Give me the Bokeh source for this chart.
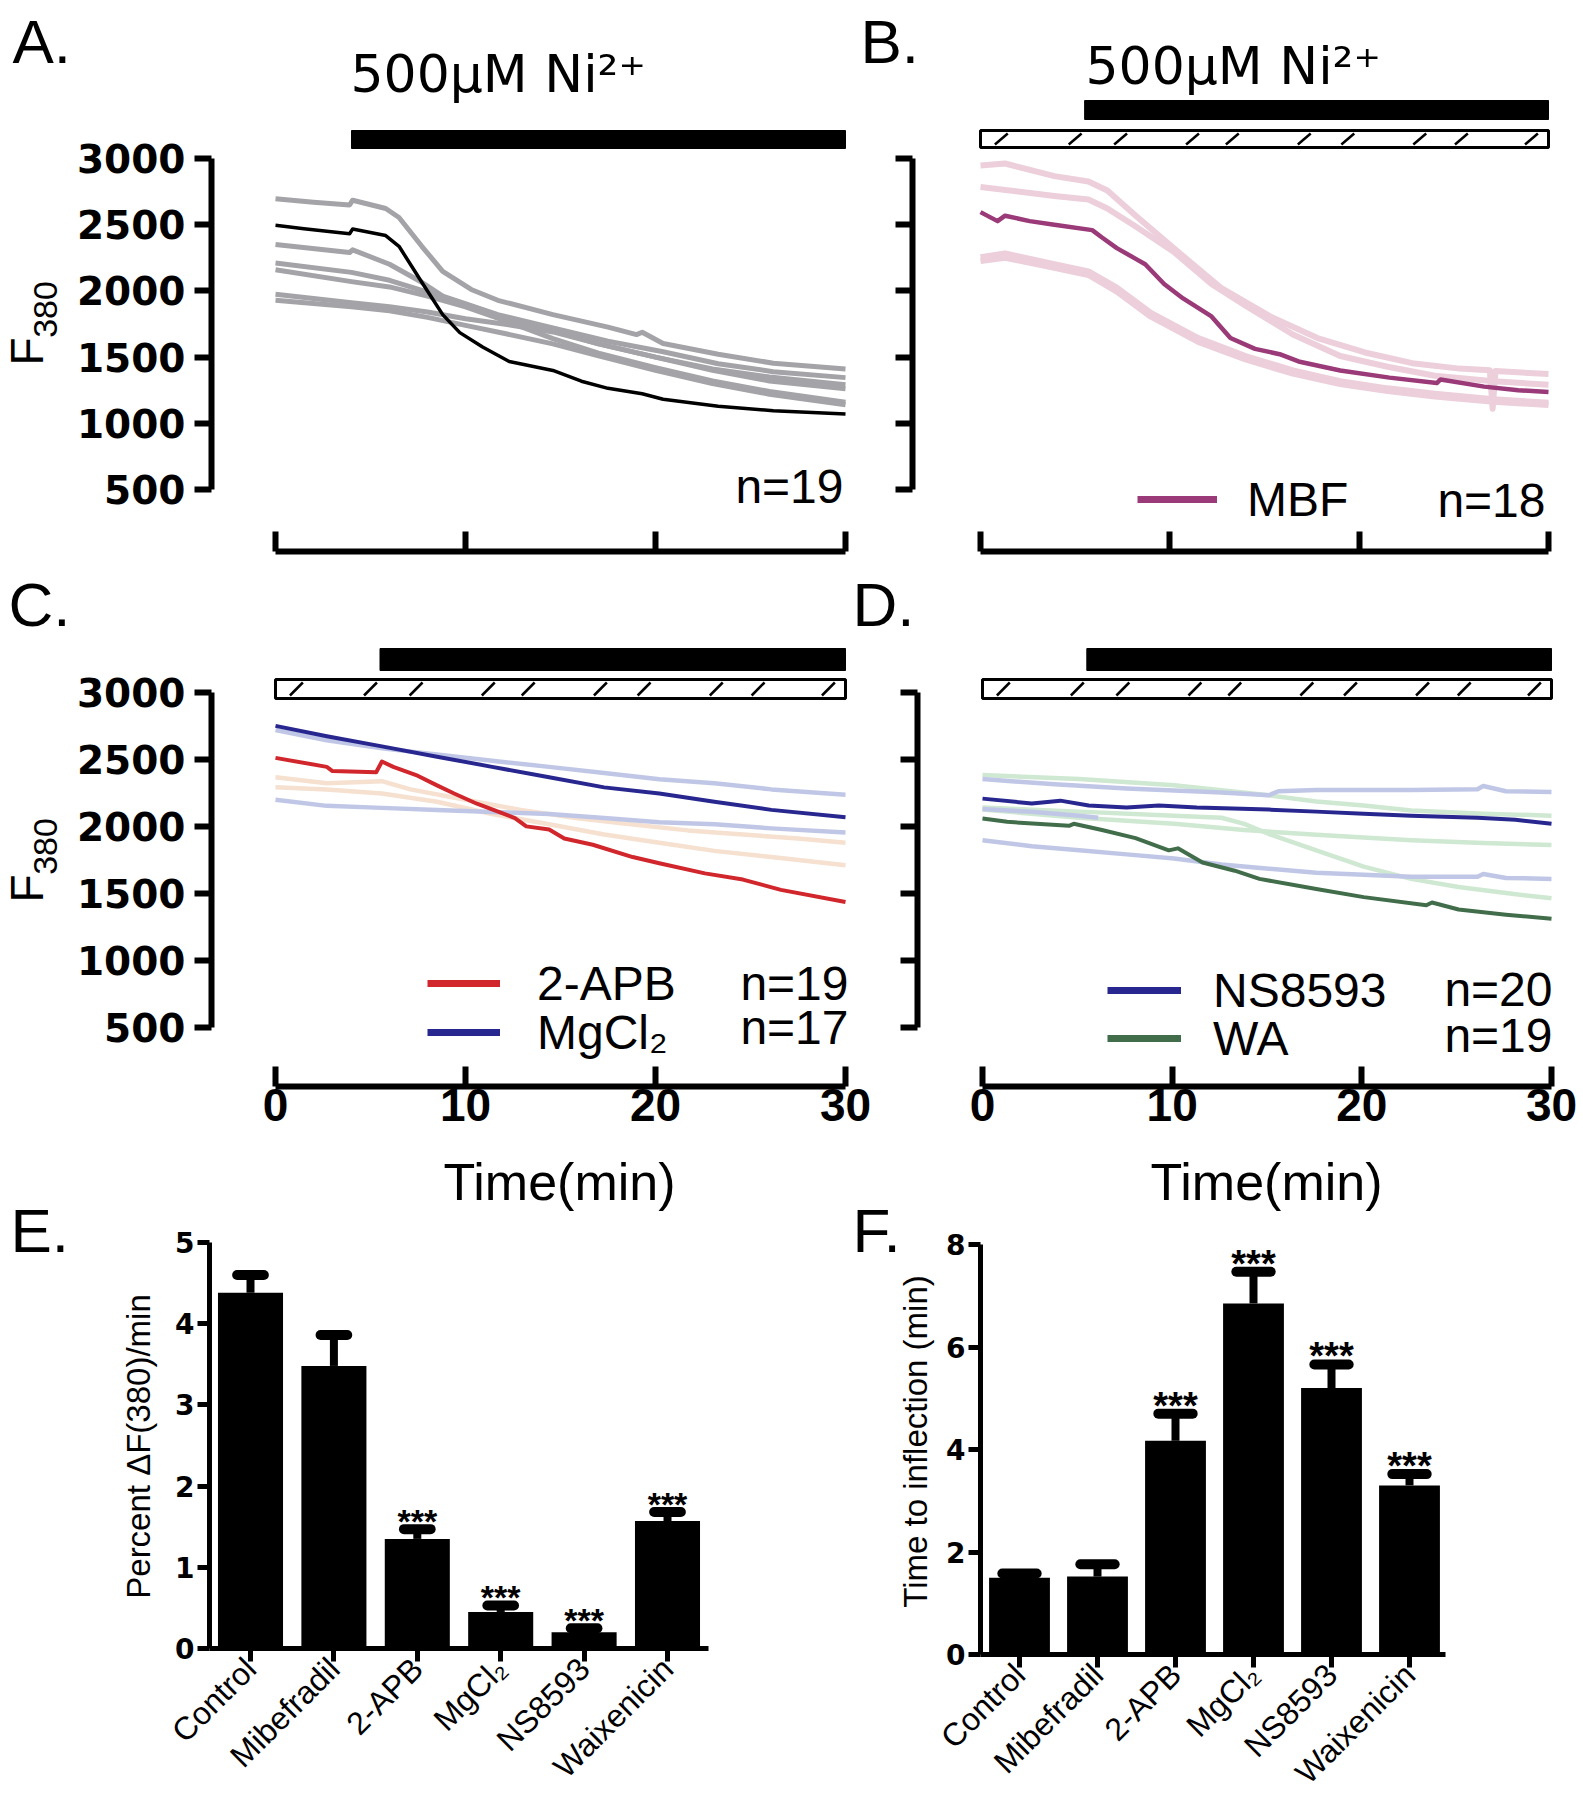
import math
from bokeh.plotting import figure
from bokeh.models import Range1d, FixedTicker, Label, Legend, LegendItem, LinearAxis
from bokeh.embed import file_html
from bokeh.resources import INLINE
from bokeh.core.properties import value

# ---------------- data ----------------
ni_start_a = 4.0
ni_start_bcd = 5.5
y_ticks_f380 = [500, 1000, 1500, 2000, 2500, 3000]
time_ticks = [0, 10, 20, 30]
hatch_t = [1.1, 5.0, 7.4, 11.2, 13.3, 17.1, 19.4, 23.2, 25.4, 29.1]

# Panel A (control): grey single cells + black mean
a_g1_t = [0, 2.0, 3.9, 4.06, 5.8, 6.5, 7.7, 8.8, 10.3, 11.7, 14.6, 17.5, 19.0, 19.3, 20.4, 23.3, 26.2, 30]
a_g1_f = [2696, 2670, 2649, 2685, 2622, 2554, 2337, 2147, 2011, 1929, 1821, 1726, 1670, 1688, 1603, 1522, 1454, 1410]
a_g2_t = [0, 3.9, 4.06, 6.0, 7.7, 8.8, 11.7, 14.6, 17.5, 20.4, 23.3, 26.2, 30]
a_g2_f = [2350, 2290, 2310, 2201, 2065, 1960, 1820, 1720, 1620, 1540, 1450, 1390, 1345]
a_gx_t = [0, 4, 6, 8, 10, 12, 14.6, 17, 20, 23, 26, 30]
a_g3_f = [2210, 2140, 2080, 1990, 1900, 1800, 1700, 1600, 1500, 1410, 1350, 1291]
a_g4_f = [2160, 2070, 2030, 1960, 1880, 1780, 1640, 1530, 1420, 1320, 1240, 1160]
a_g5_f = [1975, 1910, 1880, 1840, 1790, 1750, 1690, 1600, 1500, 1400, 1320, 1260]
a_g6_f = [1930, 1880, 1850, 1800, 1740, 1680, 1600, 1510, 1400, 1300, 1220, 1140]
a_k_t = [0, 1.5, 3.9, 4.06, 5.8, 6.5, 7.7, 8.8, 9.7, 10.9, 12.3, 14.6, 16.1, 17.5, 19.3, 20.4, 23.3, 26.2, 30]
a_k_f = [2495, 2470, 2432, 2467, 2418, 2337, 2065, 1821, 1685, 1576, 1467, 1399, 1318, 1264, 1223, 1182, 1128, 1095, 1070]

# Panel B (MBF)
b_m_t = [0, 0.9, 1.3, 2.6, 3.9, 5.9, 6.4, 7.2, 8.2, 8.7, 9.7, 10.7, 12.2, 13.2, 14.5, 15.8, 16.8, 19.0, 21.6, 24.1, 24.3, 26.6, 28.4, 30]
b_m_f = [2595, 2527, 2568, 2527, 2500, 2459, 2405, 2323, 2242, 2201, 2052, 1943, 1807, 1644, 1562, 1522, 1467, 1399, 1345, 1304, 1331, 1277, 1250, 1236]
b_p1_t = [0, 1.3, 3.9, 5.7, 6.7, 8.2, 10.2, 12.7, 15.3, 17.8, 20.3, 22.8, 25.3, 26.9, 27.05, 27.2, 30]
b_p1_f = [2948, 2962, 2867, 2826, 2758, 2568, 2323, 2024, 1807, 1644, 1535, 1454, 1413, 1400, 1110, 1395, 1372]
b_p2_t = [0, 3.9, 5.7, 6.7, 8.2, 10.2, 12.2, 14.0, 16.5, 19.0, 21.5, 24.0, 27.1, 30]
b_p2_f = [2785, 2717, 2690, 2622, 2486, 2296, 2052, 1889, 1671, 1508, 1427, 1359, 1318, 1291]
b_p3_t = [0, 1.3, 3.9, 5.7, 7.2, 9.0, 11.5, 14.0, 16.5, 19.0, 21.5, 24.0, 27.1, 30]
b_p3_f = [2255, 2283, 2201, 2147, 2024, 1834, 1644, 1508, 1399, 1318, 1264, 1223, 1182, 1155]
b_p4_f = [2225, 2250, 2175, 2120, 1995, 1805, 1615, 1482, 1375, 1297, 1243, 1203, 1162, 1138]

# Panel C (2-APB, MgCl2)
c_r_t = [0, 2.7, 3.0, 5.3, 5.6, 6.2, 7.4, 8.5, 9.4, 10.6, 12.6, 13.2, 14.4, 15.2, 16.7, 18.8, 20.2, 22.6, 24.6, 26.6, 30]
c_r_f = [2512, 2445, 2414, 2405, 2485, 2445, 2384, 2307, 2246, 2170, 2063, 2001, 1977, 1910, 1864, 1772, 1726, 1650, 1604, 1527, 1436]
c_t = [0, 2.7, 5.6, 8.5, 11.4, 14.4, 17.3, 20.2, 23.1, 26.1, 30]
c_mg_f = [2751, 2674, 2598, 2521, 2445, 2368, 2292, 2246, 2185, 2124, 2069]
c_lb1_f = [2720, 2644, 2583, 2537, 2491, 2445, 2399, 2353, 2323, 2277, 2237]
c_lb2_f = [2200, 2154, 2139, 2124, 2109, 2093, 2063, 2032, 2017, 1986, 1956]
c_pe2_f = [2292, 2277, 2246, 2185, 2093, 2017, 1940, 1879, 1818, 1772, 1711]
c_pe1_t = [0, 2.7, 5.6, 7.1, 10.0, 12.9, 15.8, 18.7, 21.7, 24.6, 27.5, 30]
c_pe1_f = [2368, 2323, 2338, 2277, 2200, 2124, 2063, 2017, 1971, 1940, 1910, 1879]

# Panel D (NS8593, WA)
d_ns_t = [0, 2.6, 4.1, 5.6, 7.6, 9.3, 11.3, 15.1, 17.6, 20.1, 22.6, 26.1, 28.1, 30]
d_ns_f = [2208, 2172, 2193, 2157, 2141, 2157, 2141, 2126, 2111, 2096, 2081, 2065, 2050, 2020]
d_wa_t = [0, 1.3, 4.56, 4.81, 6.3, 8.07, 9.82, 10.3, 11.6, 13.3, 14.6, 17.6, 20.1, 23.4, 23.7, 25.1, 27.6, 30]
d_wa_f = [2059, 2035, 2005, 2020, 1974, 1913, 1822, 1837, 1731, 1670, 1609, 1533, 1473, 1412, 1433, 1381, 1342, 1312]
d_lb1_t = [0, 3.8, 7.6, 12.6, 15.1, 15.6, 17.6, 22.6, 26.1, 26.4, 27.6, 30]
d_lb1_f = [2354, 2315, 2284, 2254, 2233, 2263, 2272, 2272, 2278, 2302, 2263, 2257]
d_lb2_t = [0, 2.6, 5.1, 7.6, 10.1, 12.6, 15.1, 17.6, 20.1, 22.6, 26.1, 26.4, 27.6, 30]
d_lb2_f = [1898, 1853, 1822, 1792, 1761, 1716, 1685, 1655, 1640, 1625, 1625, 1646, 1616, 1609]
d_lb3_t = [0, 2.6, 5.1, 6.1]
d_lb3_f = [2130, 2110, 2080, 2065]
d_lg1_t = [0, 5.1, 10.1, 15.1, 17.6, 20.1, 22.6, 26.4, 30]
d_lg1_f = [2384, 2354, 2308, 2233, 2187, 2157, 2120, 2096, 2081]
d_lg2_t = [0, 5.1, 10.1, 13.8, 17.6, 22.6, 26.4, 30]
d_lg2_f = [2126, 2065, 2020, 1974, 1938, 1898, 1877, 1862]
d_lg3_t = [0, 5.1, 10.1, 12.6, 13.8, 15.1, 17.6, 20.1, 22.6, 25.1, 27.6, 30]
d_lg3_f = [2141, 2111, 2081, 2065, 2020, 1944, 1822, 1701, 1609, 1549, 1503, 1464]

# Panels E, F (bar charts)
categories = ["Control", "Mibefradil", "2-APB", "MgCl\u2082", "NS8593", "Waixenicin"]
e_mean = [4.38, 3.48, 1.35, 0.45, 0.20, 1.57]
e_sem = [0.22, 0.38, 0.12, 0.08, 0.05, 0.11]
f_mean = [1.50, 1.52, 4.17, 6.85, 5.20, 3.30]
f_sem = [0.08, 0.24, 0.53, 0.62, 0.46, 0.22]
significance = ["", "", "***", "***", "***", "***"]
e_ticks = [0, 1, 2, 3, 4, 5]
f_ticks = [0, 2, 4, 6, 8]

# ---------------- style ----------------
FONT = "Liberation Sans"
WIDE = "DejaVu Sans"
GREY = "#a4a4a8"
MBF = "#9b3a78"
PINK = "#eccfda"
RED = "#d0262c"
NAVY = "#28278f"
LBLUE = "#c0c7e6"
PEACH = "#f6e0cf"
DGREEN = "#416d4b"
LGREEN = "#cfe8d2"

W, H = 1580, 1796
# one canvas; the default ranges are page pixels (y downwards) for annotations
p = figure(width=W, height=H, x_range=Range1d(0, W), y_range=Range1d(H, 0),
           x_axis_type=None, y_axis_type=None, output_backend="svg",
           toolbar_location=None, title=None, min_border=0, min_border_left=0,
           min_border_right=0, min_border_top=0, min_border_bottom=0)
p.outline_line_color = None
p.background_fill_color = "white"
p.border_fill_color = "white"


def panel(name, xmap, ymap):
    """Register the data ranges of one panel; returns page px -> data helpers."""
    xa, pxa, xb, pxb = xmap
    ya, pya, yb, pyb = ymap
    kx = (pxb - pxa) / (xb - xa)
    ky = (pyb - pya) / (yb - ya)

    def X(px):
        return xa + (px - pxa) / kx

    def Y(py):
        return ya + (py - pya) / ky

    p.extra_x_ranges[name] = Range1d(X(0), X(W))
    p.extra_y_ranges[name] = Range1d(Y(H), Y(0))
    return X, Y


def add_axis(name, side, ticks, loc, bounds=None, lw=6, tin=0, tout=0, font=FONT, size=37,
             bold=True, standoff=5, show=True):
    ax = LinearAxis(x_range_name=name, y_range_name=name, fixed_location=loc)
    ax.ticker = FixedTicker(ticks=ticks, minor_ticks=[])
    if bounds is not None:
        ax.bounds = bounds
    ax.axis_line_width = lw
    ax.axis_line_color = "black"
    ax.major_tick_line_width = lw
    ax.major_tick_line_color = "black"
    ax.major_tick_in = tin
    ax.major_tick_out = tout
    ax.minor_tick_line_color = None
    ax.major_label_standoff = standoff
    if show:
        ax.major_label_text_font = font
        ax.major_label_text_font_size = f"{size}px"
        ax.major_label_text_font_style = "bold" if bold else "normal"
        ax.major_label_text_color = "black"
    else:
        ax.major_label_text_font_size = "1px"
        ax.major_label_text_color = None
    p.add_layout(ax, side)
    return ax


def lab(x, y, text, size, font=FONT, style="normal", align="left", angle=0.0, center=False):
    """Text at page px; y is the baseline unless center=True."""
    yy = y if center else y - 0.35 * size
    p.add_layout(Label(x=x, y=yy, text=text, text_font=font,
                       text_font_size=f"{size}px", text_font_style=style,
                       text_align=align, text_baseline="middle", angle=angle,
                       text_color="black"))


def line(name, t, f, color, width):
    p.line(t, f, line_color=color, line_width=width, line_join="round",
           x_range_name=name, y_range_name=name)


def trace_axes(name, X, Y, yaxis_px, xaxis_py, show_y, show_x):
    add_axis(name, "left", y_ticks_f380, X(yaxis_px), bounds=(500, 3000), lw=6, tout=17,
             font=WIDE, size=39, bold=True, standoff=9, show=show_y)
    add_axis(name, "below", time_ticks, Y(xaxis_py), bounds=(0, 30), lw=6, tin=20,
             font=FONT, size=46, bold=True, standoff=2, show=show_x)


def ni_bar(name, Y, start, top_py, bot_py):
    p.quad(left=[start], right=[30], bottom=[Y(bot_py)], top=[Y(top_py)],
           fill_color="black", line_color="black", line_width=1,
           x_range_name=name, y_range_name=name)


def hatch_bar(name, Y, top_py, bot_py):
    p.quad(left=[0], right=[30], bottom=[Y(bot_py)], top=[Y(top_py)],
           fill_color="white", line_color="black", line_width=3,
           x_range_name=name, y_range_name=name)
    p.segment(x0=[t - 0.34 for t in hatch_t], y0=[Y(bot_py - 3)] * len(hatch_t),
              x1=[t + 0.34 for t in hatch_t], y1=[Y(top_py + 3)] * len(hatch_t),
              line_color="black", line_width=2.5, x_range_name=name, y_range_name=name)


def f380_label(cy):
    lab(26, cy + 28, "F", 46, align="center", angle=math.pi / 2, center=True)
    lab(45, cy - 14, "380", 34, align="center", angle=math.pi / 2, center=True)


def legend_entry(text, color, glyph_left, row_center, glyph_w, standoff):
    r = p.line(x=[-1000, -999], y=[-1000, -1000], line_color=color, line_width=7)
    leg = Legend(items=[LegendItem(label=text, renderers=[r])],
                 location=(glyph_left, H - (row_center + 30)),
                 orientation="vertical", label_text_font=FONT,
                 label_text_font_size="48px", label_text_color="black",
                 glyph_width=glyph_w, glyph_height=60, label_height=60,
                 label_standoff=standoff, spacing=0, padding=0, margin=0,
                 border_line_color=None, background_fill_alpha=0)
    p.add_layout(leg)


# ---------------- Panel A ----------------
XA, YA = panel("a", (0, 275, 30, 845), (3000, 158, 500, 489))
trace_axes("a", XA, YA, 211, 551, True, False)
for f in [a_g3_f, a_g4_f, a_g5_f, a_g6_f]:
    line("a", a_gx_t, f, GREY, 5)
line("a", a_g1_t, a_g1_f, GREY, 5)
line("a", a_g2_t, a_g2_f, GREY, 5)
line("a", a_k_t, a_k_f, "black", 3.5)
ni_bar("a", YA, ni_start_a, 130, 148)
lab(12, 63, "A.", 62)
lab(350, 92, "500\u03bcM Ni\u00b2\u207a", 52, font=WIDE)
f380_label(323)
lab(843, 503, "n=19", 48, align="right")

# ---------------- Panel B ----------------
XB, YB = panel("b", (0, 980, 30, 1548), (3000, 158, 500, 489))
trace_axes("b", XB, YB, 912, 551, False, False)
line("b", b_p1_t, b_p1_f, PINK, 6)
line("b", b_p2_t, b_p2_f, PINK, 6)
line("b", b_p3_t, b_p3_f, PINK, 6)
line("b", b_p3_t, b_p4_f, PINK, 6)
line("b", b_m_t, b_m_f, MBF, 4.5)
ni_bar("b", YB, ni_start_bcd, 100, 119)
hatch_bar("b", YB, 130, 147)
lab(860, 63, "B.", 62)
lab(1085, 84, "500\u03bcM Ni\u00b2\u207a", 52, font=WIDE)
legend_entry("MBF", MBF, 1137, 499, 80, 30)
lab(1545, 517, "n=18", 48, align="right")

# ---------------- Panel C ----------------
XC, YC = panel("c", (0, 275, 30, 845), (3000, 692, 500, 1027))
trace_axes("c", XC, YC, 211, 1086, True, True)
line("c", c_pe1_t, c_pe1_f, PEACH, 4.5)
line("c", c_t, c_pe2_f, PEACH, 4.5)
line("c", c_t, c_lb1_f, LBLUE, 4.5)
line("c", c_t, c_lb2_f, LBLUE, 4.5)
line("c", c_t, c_mg_f, NAVY, 4)
line("c", c_r_t, c_r_f, RED, 4)
ni_bar("c", YC, ni_start_bcd, 648, 670)
hatch_bar("c", YC, 679, 698)
lab(8, 626, "C.", 62)
f380_label(860)
legend_entry("2-APB", RED, 427, 983, 73, 37)
legend_entry("MgCl\u2082", NAVY, 427, 1032, 73, 37)
lab(848, 1000, "n=19", 48, align="right")
lab(848, 1044, "n=17", 48, align="right")
lab(559, 1200, "Time(min)", 52, align="center")

# ---------------- Panel D ----------------
XD, YD = panel("d", (0, 982, 30, 1551), (3000, 692, 500, 1027))
trace_axes("d", XD, YD, 917, 1086, False, True)
line("d", d_lg1_t, d_lg1_f, LGREEN, 4.5)
line("d", d_lg2_t, d_lg2_f, LGREEN, 4.5)
line("d", d_lg3_t, d_lg3_f, LGREEN, 4.5)
line("d", d_lb3_t, d_lb3_f, LBLUE, 4.5)
line("d", d_lb1_t, d_lb1_f, LBLUE, 4.5)
line("d", d_lb2_t, d_lb2_f, LBLUE, 4.5)
line("d", d_ns_t, d_ns_f, NAVY, 4)
line("d", d_wa_t, d_wa_f, DGREEN, 4)
ni_bar("d", YD, ni_start_bcd, 648, 670)
hatch_bar("d", YD, 679, 698)
lab(852, 626, "D.", 62)
legend_entry("NS8593", NAVY, 1107, 990, 74, 32)
legend_entry("WA", DGREEN, 1107, 1038, 74, 32)
lab(1552, 1006, "n=20", 48, align="right")
lab(1552, 1052, "n=19", 48, align="right")
lab(1266, 1200, "Time(min)", 52, align="center")


# ---------------- bar panels ----------------
def bar_panel(name, xmap, ymap, axis_px, axis_right_px, means, sems, yticks, ybound,
              ylabel, ylab_xy, letter, letter_xy, cap_half, star_size):
    X, Y = panel(name, xmap, ymap)
    idx = list(range(len(categories)))
    tops = [m + s for m, s in zip(means, sems)]
    kw = dict(x_range_name=name, y_range_name=name)
    p.vbar(x=idx, top=means, bottom=0, width=0.78, fill_color="black", line_color=None, **kw)
    p.segment(x0=idx, y0=means, x1=idx, y1=tops, line_color="black", line_width=8, **kw)
    p.segment(x0=[i - cap_half for i in idx], y0=tops, x1=[i + cap_half for i in idx], y1=tops,
              line_color="black", line_width=10, line_cap="round", **kw)
    sx = [i for i, s in zip(idx, significance) if s]
    sy = [t for t, s in zip(tops, significance) if s]
    st = [s for s in significance if s]
    p.text(x=sx, y=sy, text=st, text_align="center", text_baseline="middle",
           y_offset=-8, text_font=value(FONT), text_font_style="bold",
           text_font_size=f"{star_size}px", text_color="black", **kw)
    add_axis(name, "left", yticks, X(axis_px), bounds=ybound, lw=5, tout=12, font=WIDE,
             size=28, bold=True, standoff=3)
    ax = add_axis(name, "below", idx, 0, bounds=(X(axis_px), X(axis_right_px)), lw=5, tout=13,
                  font=FONT, size=32, bold=False, standoff=2)
    ax.major_label_overrides = {i: c for i, c in zip(idx, categories)}
    ax.major_label_orientation = math.pi / 4
    lab(ylab_xy[0], ylab_xy[1], ylabel, 33, align="center", angle=math.pi / 2, center=True)
    lab(letter_xy[0], letter_xy[1], letter, 62)


bar_panel("e", (0, 250, 5, 667), (0, 1648, 5, 1242), 209, 708,
          e_mean, e_sem, e_ticks, (0, 5), "Percent \u0394F(380)/min", (138, 1446),
          "E.", (10, 1252), 0.16, 34)
bar_panel("f", (0, 1019, 5, 1409), (0, 1654, 8, 1244), 980, 1445,
          f_mean, f_sem, f_ticks, (0, 8), "Time to inflection (min)", (915, 1441),
          "F.", (852, 1252), 0.22, 38)

open("out.html", "w").write(file_html(p, INLINE))
